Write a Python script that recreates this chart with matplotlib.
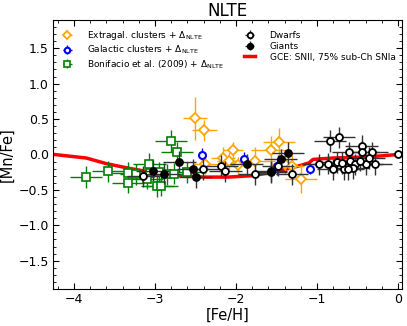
import numpy as np
import matplotlib
matplotlib.use("Agg")
import matplotlib.pyplot as plt
from matplotlib.ticker import AutoMinorLocator

# GCE model line
gce_feh = [-4.25, -3.85, -3.6, -3.3, -3.0, -2.7, -2.4, -2.1, -1.8, -1.5, -1.25, -1.1, -1.05, -0.8, -0.5, -0.2, 0.0]
gce_mnfe = [0.0, -0.05, -0.13, -0.2, -0.26, -0.3, -0.32, -0.32, -0.3, -0.24, -0.17, -0.12, -0.07, -0.05, -0.04, -0.02, 0.0]

# Extragalactic clusters
ext_feh = [-2.51, -2.39, -2.38, -2.16, -2.09, -2.04, -1.97, -1.77, -1.57, -1.47, -1.40, -1.31, -1.20]
ext_mnfe = [0.51, 0.34, -0.13, -0.05, -0.09, 0.06, -0.15, -0.09, 0.06, 0.17, -0.13, -0.16, -0.34]
ext_xerr = [0.15, 0.15, 0.15, 0.15, 0.15, 0.12, 0.15, 0.25, 0.25, 0.2, 0.15, 0.15, 0.2]
ext_yerr = [0.3, 0.15, 0.15, 0.15, 0.12, 0.12, 0.12, 0.2, 0.2, 0.2, 0.15, 0.15, 0.2]

# Galactic clusters
gal_feh = [-2.42, -1.90, -1.50, -1.09]
gal_mnfe = [-0.01, -0.07, -0.17, -0.20]
gal_xerr = [0.03, 0.03, 0.03, 0.03]
gal_yerr = [0.1, 0.1, 0.12, 0.08]

# Bonifacio et al. (2009)
bon_feh = [-3.85, -3.58, -3.33, -3.33, -3.23, -3.07, -3.06, -3.10, -2.95, -2.97, -2.92, -2.85, -2.80, -2.73, -2.77, -2.61]
bon_mnfe = [-0.32, -0.24, -0.26, -0.40, -0.28, -0.13, -0.26, -0.34, -0.25, -0.45, -0.44, -0.28, 0.19, 0.03, -0.27, -0.25]
bon_xerr = [0.2] * 16
bon_yerr = [0.15] * 16

# Dwarfs
dw_feh = [-3.15, -2.41, -2.18, -2.13, -1.77, -1.57, -1.48, -1.31, -0.97, -0.84, -0.73, -0.86, -0.80,
          -0.75, -0.67, -0.61, -0.59, -0.53, -0.45, -0.44, -0.39, -0.32, -0.36, -0.28, -0.47, -0.56,
          -0.69, -0.62, 0.0]
dw_mnfe = [-0.31, -0.21, -0.16, -0.24, -0.28, -0.25, -0.16, -0.28, -0.14, 0.19, 0.24, -0.13, -0.21,
           -0.11, -0.21, 0.03, -0.09, -0.14, 0.12, 0.04, -0.14, 0.03, -0.05, -0.14, -0.09, -0.19,
           -0.12, -0.21, 0.01]
dw_xerr = [0.2] * 28 + [0.0]
dw_yerr = [0.15] * 28 + [0.0]

# Giants
gi_feh = [-3.03, -2.89, -2.70, -2.53, -2.50, -1.87, -1.57, -1.45, -1.36]
gi_mnfe = [-0.23, -0.27, -0.10, -0.21, -0.32, -0.14, -0.24, -0.07, 0.02]
gi_xerr = [0.2] * 9
gi_yerr = [0.15] * 9

fig = plt.figure(figsize=(4.07, 3.26), dpi=100)
ax = fig.add_axes([0.130, 0.1135, 0.858, 0.8255])

orange = '#FFA500'
h1 = ax.errorbar(ext_feh, ext_mnfe, xerr=ext_xerr, yerr=ext_yerr, fmt='D', mfc='white', mec=orange,
                 ms=5, mew=1.3, ecolor=orange, elinewidth=1, zorder=4,
                 label=r'Extragal. clusters + $\Delta_{\rm NLTE}$')
h2 = ax.errorbar(gal_feh, gal_mnfe, xerr=gal_xerr, yerr=gal_yerr, fmt='o', mfc='white', mec='blue',
                 ms=5, mew=1.5, ecolor='blue', elinewidth=1, zorder=4,
                 label=r'Galactic clusters + $\Delta_{\rm NLTE}$')
h3 = ax.errorbar(bon_feh, bon_mnfe, xerr=bon_xerr, yerr=bon_yerr, fmt='s', mfc='white', mec='green',
                 ms=5.5, mew=1.2, ecolor='green', elinewidth=1, zorder=3,
                 label=r'Bonifacio et al. (2009) + $\Delta_{\rm NLTE}$')
h4 = ax.errorbar(dw_feh, dw_mnfe, xerr=dw_xerr, yerr=dw_yerr, fmt='o', mfc='white', mec='black',
                 ms=5, mew=1.3, ecolor='#333333', elinewidth=1, zorder=5, label='Dwarfs')
h5 = ax.errorbar(gi_feh, gi_mnfe, xerr=gi_xerr, yerr=gi_yerr, fmt='o', mfc='black', mec='black',
                 ms=5, mew=1.3, ecolor='#333333', elinewidth=1, zorder=5, label='Giants')
h6, = ax.plot(gce_feh, gce_mnfe, color='red', lw=2.5, zorder=2, label='GCE: SNII, 75% sub-Ch SNIa')

ax.set_xlim(-4.26, 0.05)
ax.set_ylim(-1.9, 1.9)
ax.set_xticks([-4, -3, -2, -1, 0])
ax.set_yticks([-1.5, -1.0, -0.5, 0.0, 0.5, 1.0, 1.5])
ax.xaxis.set_minor_locator(AutoMinorLocator(5))
ax.yaxis.set_minor_locator(AutoMinorLocator(5))
ax.tick_params(which='both', direction='in', top=True, right=True, labelsize=9)
ax.tick_params(which='major', length=4, pad=3)
ax.tick_params(which='minor', length=2)
ax.set_xlabel('[Fe/H]', fontsize=10.5, labelpad=1)
ax.set_ylabel('[Mn/Fe]', fontsize=10.5, labelpad=3)
ax.set_title('NLTE', fontsize=12, pad=3)

leg = ax.legend([h1, h2, h3, h4, h5, h6], [h.get_label() for h in [h1, h2, h3, h4, h5, h6]],
                loc='upper left', ncol=2, frameon=False, fontsize=6.5, handlelength=1.2,
                columnspacing=2.2, borderaxespad=0.6, borderpad=0.4, labelspacing=0.2,
                handletextpad=1.6, markerscale=0.8)

fig.savefig('out.png', dpi=100)
